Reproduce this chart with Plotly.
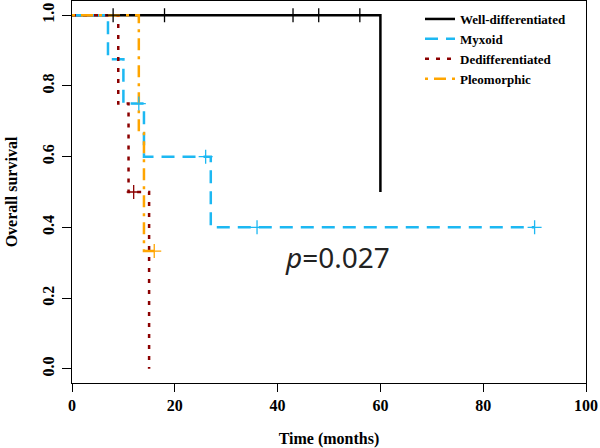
import plotly.graph_objects as go

# Kaplan-Meier step data (time in months, survival probability)
well_time = [0, 60]
well_surv = [1.0, 0.5]
well_cens_time = [8, 18, 43, 48, 56]
well_cens_surv = [1.0, 1.0, 1.0, 1.0, 1.0]

myx_time = [0, 7, 10, 14, 27, 90]
myx_surv = [1.0, 0.875, 0.75, 0.6, 0.4, 0.4]
myx_cens_time = [13, 26, 36, 90]
myx_cens_surv = [0.75, 0.6, 0.4, 0.4]

ded_time = [0, 9, 11, 15]
ded_surv = [1.0, 0.75, 0.5, 0.0]
ded_cens_time = [12]
ded_cens_surv = [0.5]

pleo_time = [0, 13, 14, 16]
pleo_surv = [1.0, 0.667, 0.333, 0.333]
pleo_cens_time = [16]
pleo_cens_surv = [0.333]

names = ["Well-differentiated", "Myxoid", "Dedifferentiated", "Pleomorphic"]
colors = ["#000000", "#1DB8F2", "#8B0000", "#FFA500"]
dashes = ["solid", "13px,8px", "4px,7px", "3px,6px,12px,6px"]

series = [
    (well_time, well_surv, well_cens_time, well_cens_surv),
    (myx_time, myx_surv, myx_cens_time, myx_cens_surv),
    (ded_time, ded_surv, ded_cens_time, ded_cens_surv),
    (pleo_time, pleo_surv, pleo_cens_time, pleo_cens_surv),
]

fig = go.Figure()
for (t, s, ct, cs), name, col, dash in zip(series, names, colors, dashes):
    fig.add_trace(go.Scatter(
        x=t, y=s, mode="lines", name=name,
        line=dict(color=col, width=2.5, dash=dash, shape="hv"),
    ))
for (t, s, ct, cs), name, col in zip(series, names, colors):
    fig.add_trace(go.Scatter(
        x=ct, y=cs, mode="markers", showlegend=False, name=name + " censored",
        marker=dict(symbol="cross-thin", size=10, line=dict(color=col, width=1.3)),
    ))

serif = "Liberation Serif, Times New Roman, serif"
fig.add_annotation(
    x=41, y=0.315, xref="x", yref="y", xanchor="left", yanchor="middle",
    text="<i>p</i>=0.027", showarrow=False,
    font=dict(family="Noto Sans, Arial, sans-serif", size=28, color="#222222"),
)

fig.update_layout(
    width=600, height=448,
    margin=dict(l=72, r=14, t=1, b=65),
    paper_bgcolor="white", plot_bgcolor="white",
    showlegend=True,
    legend=dict(
        x=(420 - 72) / 514, y=1 - 3 / 382, xanchor="left", yanchor="top",
        bgcolor="rgba(0,0,0,0)", borderwidth=0,
        font=dict(family=serif, size=13, color="black", weight="bold"),
        itemwidth=30, tracegroupgap=0,
    ),
    xaxis=dict(
        range=[0, 100], tickvals=[0, 20, 40, 60, 80, 100],
        showline=True, linecolor="black", linewidth=1, mirror=True,
        ticks="outside", ticklen=8, tickcolor="black", showgrid=False, zeroline=False,
        tickfont=dict(family=serif, size=16, color="black", weight="bold"),
        title=dict(text="Time (months)", standoff=20,
                   font=dict(family=serif, size=16, color="black", weight="bold")),
    ),
    yaxis=dict(
        range=[-0.04, 1.04], tickvals=[0, 0.2, 0.4, 0.6, 0.8, 1.0], tickformat=".1f",
        tickangle=-90, ticklabelstandoff=2,
        showline=True, linecolor="black", linewidth=1, mirror=True,
        ticks="outside", ticklen=9, tickcolor="black", showgrid=False, zeroline=False,
        tickfont=dict(family=serif, size=16, color="black", weight="bold"),
        title=dict(text="Overall survival", standoff=17,
                   font=dict(family=serif, size=16, color="black", weight="bold")),
    ),
)

fig.write_html("out.html", config={"displayModeBar": False},
               post_script="document.body.style.margin='0';")
